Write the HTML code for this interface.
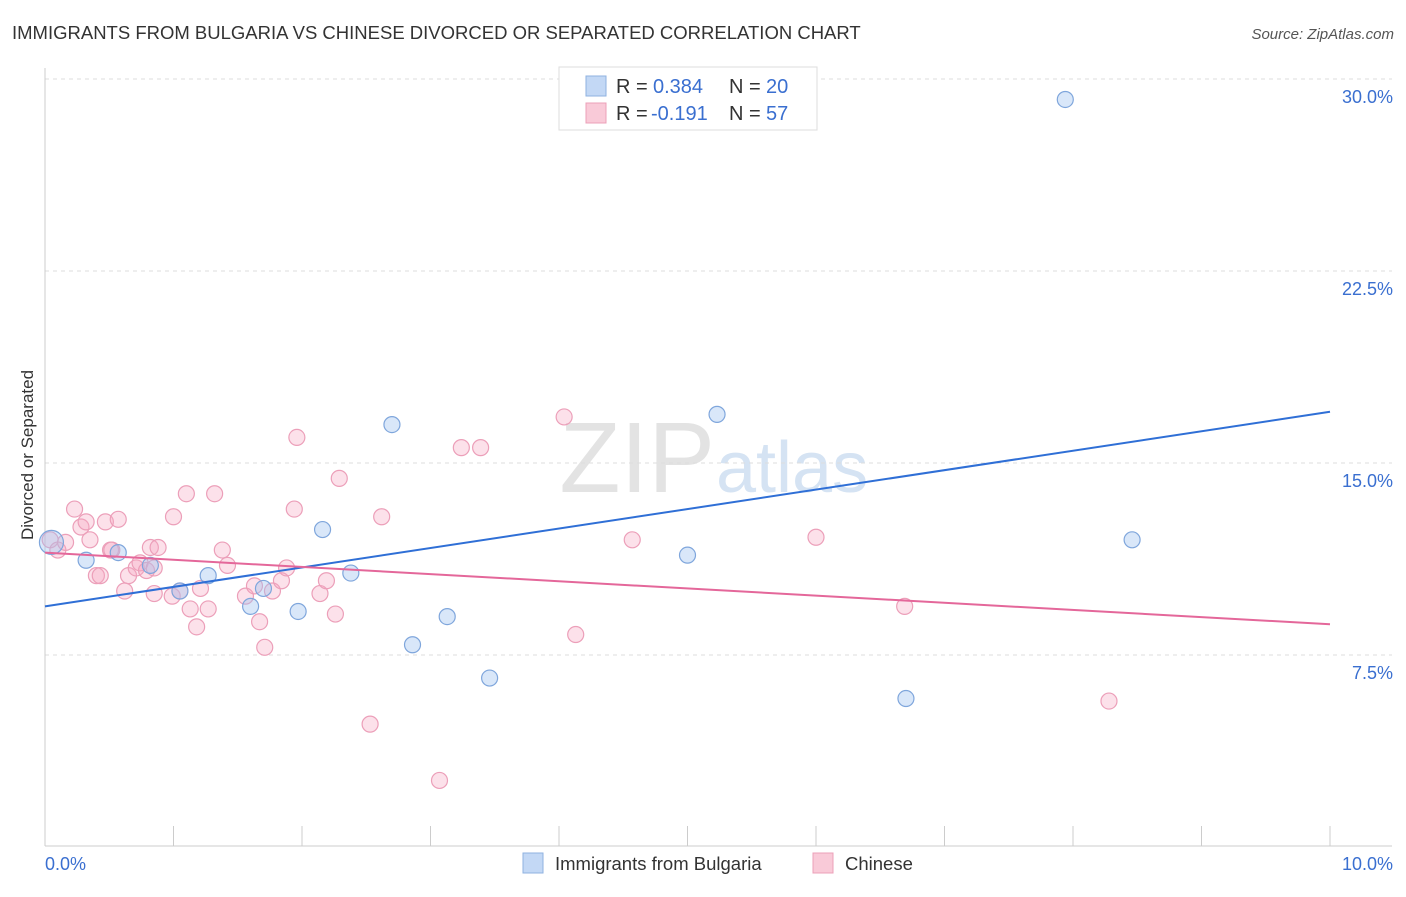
<!DOCTYPE html>
<html><head><meta charset="utf-8">
<style>
body{margin:0;background:#fff;font-family:"Liberation Sans",sans-serif;}
svg text{font-family:"Liberation Sans",sans-serif;}
</style></head>
<body>
<svg id="chart" width="1406" height="892" xmlns="http://www.w3.org/2000/svg">
<text x="12" y="39" font-size="18.5" fill="#333">IMMIGRANTS FROM BULGARIA VS CHINESE DIVORCED OR SEPARATED CORRELATION CHART</text>
<text x="1394" y="39" font-size="15" fill="#555" text-anchor="end" font-style="italic">Source: ZipAtlas.com</text>
<text x="715" y="492" font-size="100" fill="#e3e3e3" text-anchor="end" font-family="Liberation Serif">ZIP</text>
<text x="716" y="492" font-size="72" fill="#d5e3f3">atlas</text>
<g id="grid"></g>
<g id="axes"></g>
<g id="pts"></g>
<g id="trend"></g>
<text x="33" y="455" font-size="17" fill="#333" text-anchor="middle" transform="rotate(-90 33 455)">Divorced or Separated</text>
<g>
<rect x="559" y="67" width="258" height="63" fill="#fff" stroke="#ddd"/>
<rect x="586" y="76" width="20" height="20" fill="#c3d8f5" stroke="#8fb2e0"/>
<text x="616" y="93" font-size="20" fill="#333">R =</text>
<text x="653" y="93" font-size="20" fill="#3a6fd0">0.384</text>
<text x="729" y="93" font-size="20" fill="#333">N =</text>
<text x="766" y="93" font-size="20" fill="#3a6fd0">20</text>
<rect x="586" y="103" width="20" height="20" fill="#f9cad8" stroke="#eca0b8"/>
<text x="616" y="120" font-size="20" fill="#333">R =</text>
<text x="651" y="120" font-size="20" fill="#3a6fd0">-0.191</text>
<text x="729" y="120" font-size="20" fill="#333">N =</text>
<text x="766" y="120" font-size="20" fill="#3a6fd0">57</text>
</g>
<g>
<rect x="523" y="853" width="20" height="20" fill="#c3d8f5" stroke="#8fb2e0"/>
<text x="555" y="870" font-size="18.5" fill="#333">Immigrants from Bulgaria</text>
<rect x="813" y="853" width="20" height="20" fill="#f9cad8" stroke="#eca0b8"/>
<text x="845" y="870" font-size="18.5" fill="#333">Chinese</text>
</g>
</svg>
<script>
const yTicks=[7.5,15,22.5,30];
const yTickLabels=["7.5%","15.0%","22.5%","30.0%"];
const xTickCount=10;
const blueX=[0.05,0.32,0.57,0.82,1.05,1.27,1.60,1.70,1.97,2.16,2.38,2.70,2.86,3.13,3.46,5.00,5.23,6.70,7.94,8.46];
const blueY=[11.9,11.2,11.5,11.0,10.0,10.6,9.4,10.1,9.2,12.4,10.7,16.5,7.9,9.0,6.6,11.4,16.9,5.8,29.2,12.0];
const pinkX=[0.04,0.10,0.16,0.23,0.28,0.32,0.35,0.40,0.43,0.47,0.51,0.52,0.57,0.62,0.65,0.71,0.74,0.79,0.82,0.85,0.85,0.88,0.99,1.00,1.05,1.10,1.13,1.18,1.21,1.27,1.32,1.38,1.42,1.56,1.63,1.67,1.71,1.77,1.84,1.88,1.94,1.96,2.14,2.19,2.26,2.29,2.53,2.62,3.07,3.24,3.39,4.04,4.13,4.57,6.00,6.69,8.28];
const pinkY=[12.0,11.6,11.9,13.2,12.5,12.7,12.0,10.6,10.6,12.7,11.6,11.6,12.8,10.0,10.6,10.9,11.1,10.8,11.7,10.9,9.9,11.7,9.8,12.9,10.0,13.8,9.3,8.6,10.1,9.3,13.8,11.6,11.0,9.8,10.2,8.8,7.8,10.0,10.4,10.9,13.2,16.0,9.9,10.4,9.1,14.4,4.8,12.9,2.6,15.6,15.6,16.8,8.3,12.0,12.1,9.4,5.7];
const blueTrend=[9.4,17.0];
const pinkTrend=[11.5,8.7];
const NS="http://www.w3.org/2000/svg";
const X=v=>45+v*128.5, Y=v=>847-v*25.6;
function mk(p,t,a){const e=document.createElementNS(NS,t);for(const k in a)e.setAttribute(k,a[k]);p.appendChild(e);return e;}
const grid=document.getElementById('grid'),axes=document.getElementById('axes'),pts=document.getElementById('pts'),tr=document.getElementById('trend');
yTicks.forEach((v,i)=>{
 const l=mk(grid,'line',{x1:45,x2:1392,y1:Y(v),y2:Y(v),stroke:'#ddd','stroke-dasharray':'4,4'});
 
 
 const t=mk(axes,'text',{x:1393,y:Y(v)+24,'font-size':18,fill:'#3a6fd0','text-anchor':'end'});
 t.textContent=yTickLabels[i];
 
 
});
mk(axes,'line',{x1:45,x2:45,y1:68,y2:846,stroke:'#ccc'});
mk(axes,'line',{x1:45,x2:1392,y1:846,y2:846,stroke:'#ccc'});
for(let i=1;i<=xTickCount;i++){const l=mk(axes,'line',{x1:X(i),x2:X(i),y1:826,y2:846,stroke:'#ccc'});
 
 }
const xl0=mk(axes,'text',{x:45,y:870,'font-size':18,fill:'#3a6fd0'});xl0.textContent='0.0%';


const xl1=mk(axes,'text',{x:1393,y:870,'font-size':18,fill:'#3a6fd0','text-anchor':'end'});xl1.textContent='10.0%';


pinkX.forEach((x,i)=>{const c=mk(pts,'circle',{cx:X(x),cy:Y(pinkY[i]),r:8,fill:'rgba(246,170,195,0.35)',stroke:'#ec9fb9','stroke-width':1.2});
 
 });
blueX.forEach((x,i)=>{const c=mk(pts,'circle',{cx:X(x),cy:Y(blueY[i]),r:i==0?12:8,fill:'rgba(160,195,240,0.4)',stroke:'#7fa6dc','stroke-width':1.2});
 
 });
const bl=mk(tr,'line',{x1:X(0),x2:X(10),y1:Y(blueTrend[0]),y2:Y(blueTrend[1]),stroke:'#2f6fd6','stroke-width':2});


const pl=mk(tr,'line',{x1:X(0),x2:X(10),y1:Y(pinkTrend[0]),y2:Y(pinkTrend[1]),stroke:'#e4679a','stroke-width':2});


</script>
</body></html>
